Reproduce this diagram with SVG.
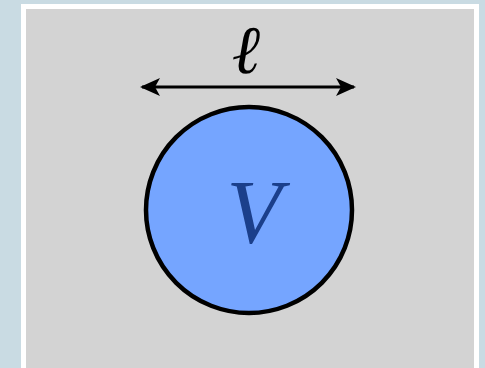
<svg xmlns="http://www.w3.org/2000/svg" width="485" height="368" viewBox="0 0 485 368">
<defs>
<marker id="ah" markerWidth="20" markerHeight="18" refX="18" refY="9" orient="auto-start-reverse" markerUnits="userSpaceOnUse">
<path d="M0,0 L20,9 L0,18 L5,9 Z" fill="#000"/>
</marker>
</defs>
<style>
.lbl{font-family:"Liberation Serif","DejaVu Serif",serif;font-style:italic}
</style>
<rect x="0" y="0" width="485" height="368" fill="#c9dbe3"/>
<rect x="23.5" y="6.5" width="453" height="366" fill="#d3d3d3" stroke="#ffffff" stroke-width="5"/>
<g id="connectors">
<line x1="142" y1="87" x2="354" y2="87" stroke="#000" stroke-width="3" marker-start="url(#ah)" marker-end="url(#ah)"/>
<text class="lbl" x="246" y="73" font-size="68" text-anchor="middle">ℓ</text>
</g>
<g id="volume">
<circle cx="249" cy="210" r="103" fill="#75a5ff" stroke="#000" stroke-width="4.5"/>
<text class="lbl" x="254" y="243" font-size="90" text-anchor="middle" fill="#1b3f8b">V</text>
</g>
</svg>
